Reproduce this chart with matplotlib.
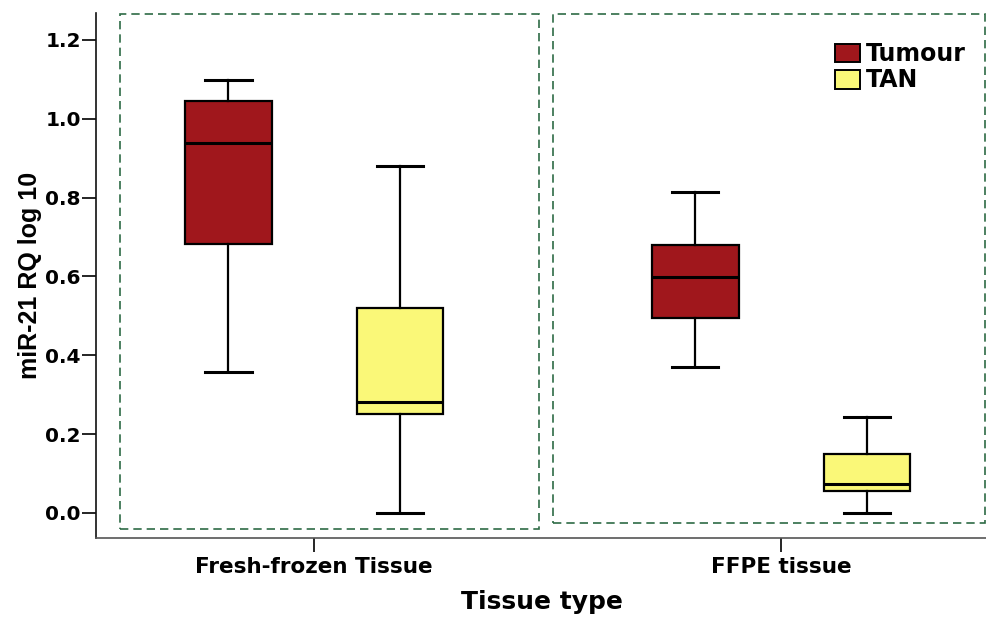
import matplotlib
matplotlib.use("Agg")
import matplotlib.pyplot as plt
from matplotlib.patches import Rectangle, Patch

# miR-21 expression (log10 RQ) per tissue type
tissue_types = ["Fresh-frozen Tissue", "FFPE tissue"]
groups = ["Tumour", "TAN"]
group_colors = ["#A0171C", "#FAF878"]

# five-number summaries: lower whisker, Q1, median, Q3, upper whisker
tumour_stats = [[0.357, 0.683, 0.938, 1.044, 1.097],
                [0.370, 0.495, 0.599, 0.680, 0.814]]
tan_stats = [[0.000, 0.251, 0.282, 0.520, 0.880],
             [0.000, 0.057, 0.074, 0.150, 0.244]]

fig = plt.figure(figsize=(9.87, 6.17), dpi=100)
ax = fig.add_axes([96 / 987, 1 - 538 / 617, 1 - 96 / 987, (538 - 13) / 617])

offset = 0.184
width = 0.186
for g, (series, color) in enumerate(zip([tumour_stats, tan_stats], group_colors)):
    sign = -1 if g == 0 else 1
    stats = []
    for s in series:
        stats.append(dict(whislo=s[0], q1=s[1], med=s[2], q3=s[3], whishi=s[4], fliers=[]))
    pos = [i + sign * offset for i in range(len(tissue_types))]
    ax.bxp(stats, positions=pos, widths=width, patch_artist=True, showfliers=False,
           boxprops=dict(facecolor=color, edgecolor="black", linewidth=1.6),
           medianprops=dict(color="black", linewidth=2.2),
           whiskerprops=dict(color="black", linewidth=1.6),
           capprops=dict(color="black", linewidth=2.2), capwidths=0.1)

# dashed frame around each tissue type
frames = [(-0.415, -0.041, 0.897, 1.307), (0.512, -0.026, 0.925, 1.292)]
for x0, y0, w, h in frames:
    ax.add_patch(Rectangle((x0, y0), w, h, fill=False, edgecolor="#2E6B45",
                           linestyle=(0, (5, 3)), linewidth=1.2, clip_on=False, zorder=0))

ax.set_xlim(-0.467, 1.441)
ax.set_ylim(-0.0634, 1.268)
ax.set_xticks(range(len(tissue_types)))
ax.set_xticklabels(tissue_types, fontsize=15.5, fontweight="bold")
ax.set_yticks([0.0, 0.2, 0.4, 0.6, 0.8, 1.0, 1.2])
ax.set_yticklabels(["0.0", "0.2", "0.4", "0.6", "0.8", "1.0", "1.2"], fontsize=14.5, fontweight="bold")
ax.tick_params(axis="both", length=10, width=1.2, direction="out")
ax.tick_params(axis="x", pad=4)
ax.tick_params(axis="y", pad=1)
for side in ["top", "right"]:
    ax.spines[side].set_visible(False)
ax.spines["left"].set_linewidth(1.2)
ax.spines["left"].set_color("#111111")
ax.spines["bottom"].set_linewidth(1.2)
ax.spines["bottom"].set_color("#555555")

ax.set_xlabel("Tissue type", fontsize=18, fontweight="bold", labelpad=9)
ax.set_ylabel("miR-21 RQ log 10", fontsize=18, fontweight="bold",
              family=["Liberation Sans Narrow", "Liberation Sans", "DejaVu Sans"])
ax.yaxis.set_label_coords(-0.061, 0.5)

handles = [Patch(facecolor=c, edgecolor="black", linewidth=1.4) for c in group_colors]
ax.legend(handles, groups, loc="upper left", bbox_to_anchor=(0.811, 0.976), frameon=False,
          prop=dict(size=17, weight="bold"), handlelength=1.05, handleheight=0.85,
          handletextpad=0.25, labelspacing=0.1, borderpad=0.2)

fig.savefig("out.png", dpi=100)
